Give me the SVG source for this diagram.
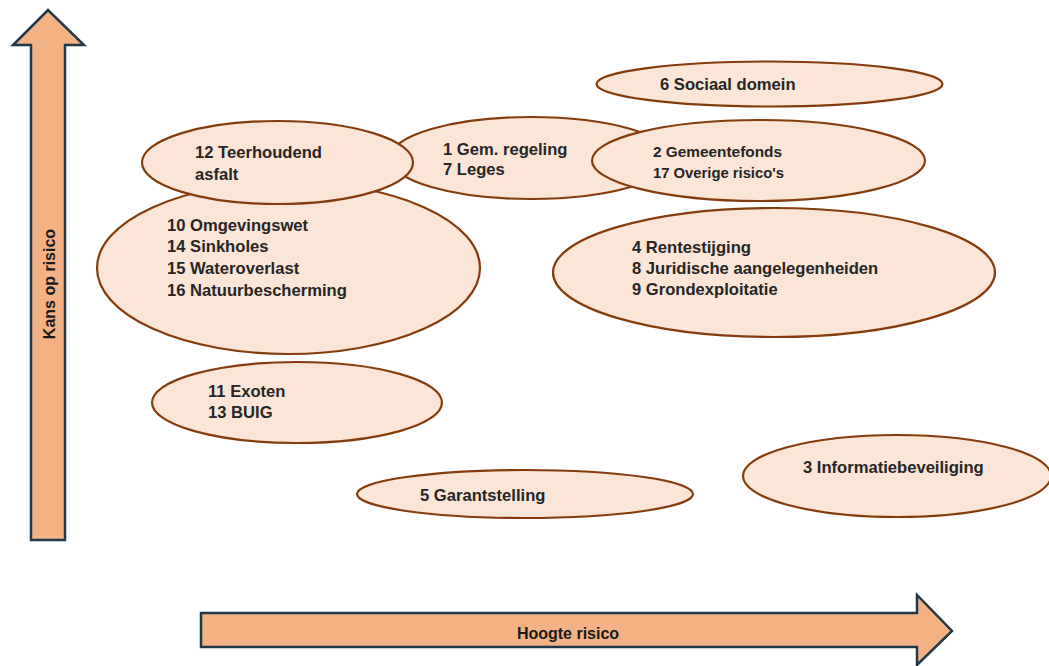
<svg xmlns="http://www.w3.org/2000/svg" width="1049" height="666" viewBox="0 0 1049 666">
<style>
.arrow{fill:#F4B183;stroke:#1F3A4A;stroke-width:2.5;stroke-linejoin:miter}
.risk{fill:#FBE5D6;stroke:#843C0C;stroke-width:2.2}
.lbl{font-family:"Liberation Sans",Arial,sans-serif;font-weight:bold;font-size:16.6px;fill:#262626}
.narrow{font-size:15px}
.axis{font-family:"Liberation Sans",Arial,sans-serif;font-weight:bold;font-size:16px;fill:#1a1a1a}
</style>
<rect width="1049" height="666" fill="#ffffff"/>
<g id="connectors">
<g id="axis-kans">
<path class="arrow" d="M31 540 L31 45 L13 45 L48 10 L84 45 L65 45 L65 540 Z"/>
<text class="axis" transform="translate(55 284) rotate(-90)" text-anchor="middle">Kans op risico</text>
</g>
<g id="axis-hoogte">
<path class="arrow" d="M201 613 L917 613 L917 595 L952 631 L917 665 L917 647 L201 647 Z"/>
<text class="axis" x="568" y="639" text-anchor="middle">Hoogte risico</text>
</g>
</g>
<g id="node-omgevingswet">
<ellipse class="risk" cx="288.5" cy="268" rx="191.5" ry="86"/>
<text class="lbl" x="167" y="231">10 Omgevingswet</text>
<text class="lbl" x="167" y="252">14 Sinkholes</text>
<text class="lbl" x="167" y="274">15 Wateroverlast</text>
<text class="lbl" x="167" y="296">16 Natuurbescherming</text>
</g>
<g id="node-gemregeling">
<ellipse class="risk" cx="531" cy="158" rx="141" ry="41"/>
<text class="lbl" x="443" y="155">1 Gem. regeling</text>
<text class="lbl" x="443" y="175">7 Leges</text>
</g>
<g id="node-teerhoudend">
<ellipse class="risk" cx="277.5" cy="162.5" rx="135.5" ry="41.5"/>
<text class="lbl" x="195" y="158">12 Teerhoudend</text>
<text class="lbl" x="195" y="180">asfalt</text>
</g>
<g id="node-sociaal">
<ellipse class="risk" cx="769.5" cy="84" rx="173" ry="22.5"/>
<text class="lbl" x="660" y="90">6 Sociaal domein</text>
</g>
<g id="node-gemeentefonds">
<ellipse class="risk" cx="758.5" cy="160.5" rx="166.5" ry="40.5"/>
<text class="lbl narrow" x="653" y="157" textLength="129" lengthAdjust="spacingAndGlyphs">2 Gemeentefonds</text>
<text class="lbl narrow" x="653" y="178" textLength="131" lengthAdjust="spacingAndGlyphs">17 Overige risico's</text>
</g>
<g id="node-rentestijging">
<ellipse class="risk" cx="774" cy="272.5" rx="221" ry="64.5"/>
<text class="lbl" x="632" y="253">4 Rentestijging</text>
<text class="lbl" x="632" y="274">8 Juridische aangelegenheiden</text>
<text class="lbl" x="632" y="295">9 Grondexploitatie</text>
</g>
<g id="node-exoten">
<ellipse class="risk" cx="297" cy="402.5" rx="145" ry="40.5"/>
<text class="lbl" x="208" y="397">11 Exoten</text>
<text class="lbl" x="208" y="418">13 BUIG</text>
</g>
<g id="node-garantstelling">
<ellipse class="risk" cx="525" cy="494" rx="168" ry="24"/>
<text class="lbl" x="420" y="501">5 Garantstelling</text>
</g>
<g id="node-informatie">
<ellipse class="risk" cx="897" cy="476" rx="154" ry="41"/>
<text class="lbl" x="803" y="473">3 Informatiebeveiliging</text>
</g>
</svg>
